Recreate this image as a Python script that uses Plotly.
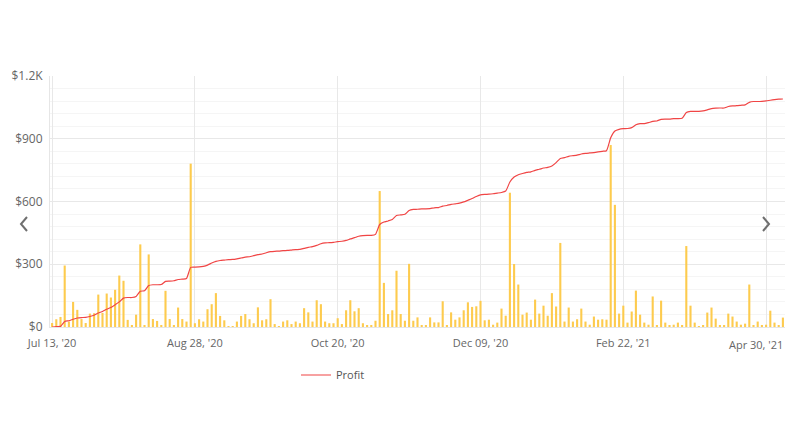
import plotly.graph_objects as go

tick_index = [0, 34, 68, 102, 136, 170]
tick_labels = ["Jul 13, '20", "Aug 28, '20", "Oct 20, '20", "Dec 09, '20", "Feb 22, '21", "Apr 30, '21"]

bar_values = [
    19, 37, 48, 294, 26, 120, 82, 38, 19, 64, 66, 155, 67, 160, 141, 178, 246, 221, 34, 6, 59, 395, 6, 347, 38, 29, 6, 173, 38, 6, 93, 38, 26, 781,
    18, 37, 26, 85, 109, 162, 53, 32, 4, 4, 26, 53, 62, 37, 18, 94, 32, 37, 133, 14, 4, 26, 32, 14, 26, 18, 90, 70, 26, 128, 109, 26, 18, 18,
    42, 14, 80, 128, 75, 90, 18, 8, 8, 30, 650, 211, 62, 80, 269, 62, 30, 302, 30, 46, 8, 8, 46, 22, 22, 123, 8, 70, 35, 46, 80, 118, 96, 99,
    125, 32, 35, 11, 21, 88, 54, 642, 301, 203, 59, 69, 35, 131, 64, 102, 54, 162, 98, 402, 26, 93, 26, 37, 88, 26, 11, 50, 35, 37, 35, 870, 584, 64,
    102, 21, 74, 174, 59, 21, 11, 146, 6, 126, 21, 6, 11, 21, 6, 387, 102, 21, 3, 6, 69, 93, 40, 6, 6, 64, 50, 26, 11, 16, 203, 6, 26, 6, 11, 78, 21, 6, 45,
]

profit = [
    0, 2, 3, 26, 30, 37, 43, 45, 46, 50, 56, 67, 74, 85, 93, 106, 120, 138, 141, 141, 146, 171, 173, 198, 202, 202, 203, 218, 219, 221, 227, 229, 232, 285,
    286, 287, 290, 296, 306, 314, 318, 320, 322, 323, 326, 330, 334, 336, 341, 346, 349, 355, 360, 362, 363, 365, 366, 368, 370, 371, 376, 381, 384, 390, 398, 402, 403, 405,
    408, 410, 414, 421, 427, 434, 437, 438, 438, 443, 490, 502, 507, 514, 533, 536, 539, 557, 562, 563, 565, 565, 566, 570, 571, 578, 581, 586, 589, 592, 598, 606, 614, 624,
    632, 634, 635, 637, 640, 643, 650, 693, 717, 728, 734, 739, 742, 749, 754, 760, 763, 770, 786, 806, 810, 816, 819, 822, 827, 830, 832, 834, 837, 840, 843, 905, 937, 945,
    948, 949, 953, 967, 972, 972, 977, 983, 985, 993, 994, 994, 996, 996, 998, 1025, 1031, 1031, 1031, 1033, 1038, 1044, 1046, 1047, 1047, 1054, 1057, 1058, 1060, 1062, 1074, 1078, 1078, 1079, 1081, 1084, 1087, 1089, 1090,
]

y_ticks = [0, 300, 600, 900, 1200]
y_tick_labels = ["$0", "$300", "$600", "$900", "$1.2K"]

x_idx = list(range(len(bar_values)))

W, H = 790, 444
L, R, T, B = 50, 5, 76, 117
pw, ph = W - L - R, H - T - B


def px(x, y):
    return (x - L) / pw, (H - B - y) / ph


fig = go.Figure()
fig.add_trace(go.Bar(x=x_idx, y=bar_values, marker=dict(color="#FDCB4E", line=dict(width=0)),
                     showlegend=False, name="Volume"))
fig.add_trace(go.Scatter(x=x_idx, y=profit, mode="lines", name="Profit",
                         line=dict(color="#F04545", width=1.2, shape="spline", smoothing=0.5)))

# chevrons
shapes = []
for pts in ([(27, 217), (21, 224), (27, 231)], [(763, 217), (769, 224), (763, 231)]):
    p = [px(*q) for q in pts]
    path = "M {} {} L {} {} L {} {}".format(p[0][0], p[0][1], p[1][0], p[1][1], p[2][0], p[2][1])
    shapes.append(dict(type="path", xref="paper", yref="paper", path=path,
                       line=dict(color="#6f6f6f", width=2)))

# the last date label is pulled inward so it stays inside the page
shown_ticktext = tick_labels[:-1] + [""]
annotations = [dict(x=tick_index[-1], y=0, xref="x", yref="paper", text=tick_labels[-1],
                    showarrow=False, xanchor="center", yanchor="top", xshift=-10, yshift=-8,
                    font=dict(size=11, color="#666666"))]

lx, ly = px(296, 375)

fig.update_layout(
    width=W, height=H,
    margin=dict(l=L, r=R, t=T, b=B),
    paper_bgcolor="white", plot_bgcolor="white",
    font=dict(family="Open Sans, sans-serif", size=11, color="#666666"),
    bargap=0.5,
    shapes=shapes,
    annotations=annotations,
    xaxis=dict(range=[-0.5, len(bar_values) - 0.5], tickmode="array", tickvals=tick_index,
               ticktext=shown_ticktext, showgrid=True, gridcolor="#e8e8e8", gridwidth=1,
               zeroline=False, showline=True, linecolor="#e6e6e6", ticks="",
               ticklabelstandoff=6,
               tickfont=dict(size=11, color="#666666")),
    yaxis=dict(range=[0, 1200], tickmode="array", tickvals=y_ticks, ticktext=y_tick_labels,
               showgrid=True, gridcolor="#e8e8e8", gridwidth=1, zeroline=False,
               showline=True, linecolor="#e6e6e6", ticks="", ticklabelstandoff=4,
               minor=dict(dtick=60, tick0=0, showgrid=True, gridcolor="#f5f5f5", gridwidth=1),
               tickfont=dict(size=12, color="#666666")),
    legend=dict(orientation="h", x=lx, y=ly, xanchor="left", yanchor="middle",
                font=dict(size=11, color="#555555"), itemwidth=30, bgcolor="rgba(0,0,0,0)"),
    hovermode=False,
)

fig.write_html("out.html")
